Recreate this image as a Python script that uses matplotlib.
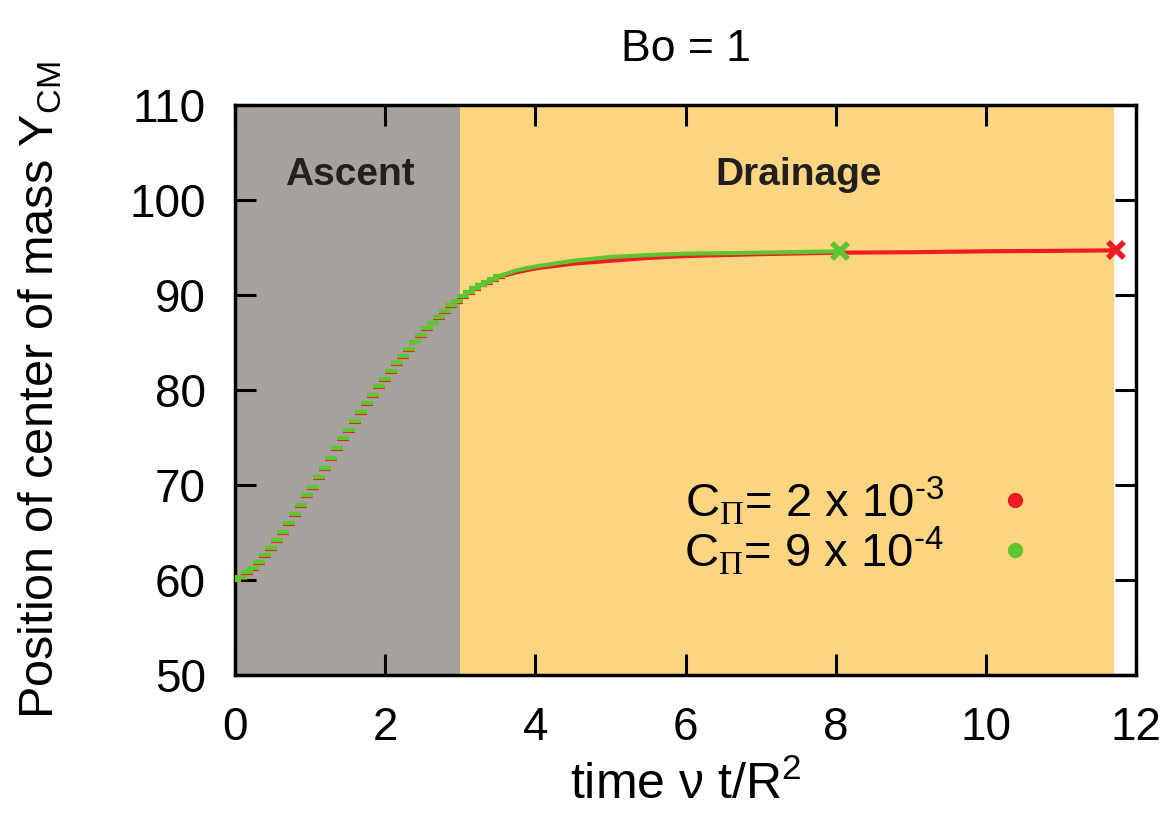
import matplotlib
matplotlib.use('Agg')
import matplotlib.pyplot as plt
from matplotlib.lines import Line2D

plt.rcParams['font.family'] = ['Liberation Sans', 'DejaVu Sans']
plt.rcParams['mathtext.fontset'] = 'custom'
plt.rcParams['mathtext.rm'] = 'Liberation Sans'
plt.rcParams['mathtext.sf'] = 'Liberation Sans'
plt.rcParams['mathtext.tt'] = 'Liberation Serif'  # serif Pi in the legend

# ascent phase samples (shared by both runs, drawn as short dashes)
t_ascent = [0.00, 0.08, 0.16, 0.24, 0.32, 0.40, 0.48, 0.56, 0.64, 0.72,
            0.80, 0.88, 0.96, 1.04, 1.12, 1.20, 1.28, 1.36, 1.44, 1.52,
            1.60, 1.68, 1.76, 1.84, 1.92, 2.00, 2.08, 2.16, 2.24, 2.32,
            2.40, 2.48, 2.56, 2.64, 2.72, 2.80, 2.88, 2.96, 3.04, 3.12,
            3.20, 3.28, 3.36, 3.44, 3.52]
y_ascent = [60.0, 60.3, 60.8, 61.3, 61.9, 62.6, 63.4, 64.2, 65.1, 66.0,
            66.9, 67.9, 68.9, 69.8, 70.8, 71.8, 72.8, 73.9, 74.9, 75.8,
            76.7, 77.7, 78.6, 79.5, 80.4, 81.2, 82.0, 82.8, 83.6, 84.3,
            85.1, 85.8, 86.5, 87.1, 87.7, 88.3, 88.9, 89.4, 89.9, 90.3,
            90.7, 91.1, 91.4, 91.7, 92.0]
y_ascent_red = [60.0, 60.2, 60.7, 61.2, 61.8, 62.5, 63.3, 64.1, 65.0, 65.9,
                66.8, 67.8, 68.8, 69.7, 70.7, 71.7, 72.7, 73.8, 74.8, 75.7,
                76.6, 77.6, 78.5, 79.4, 80.3, 81.1, 81.9, 82.7, 83.5, 84.2,
                85.0, 85.7, 86.4, 87.0, 87.6, 88.2, 88.8, 89.3, 89.8, 90.2,
                90.6, 91.0, 91.3, 91.6, 91.9]

# drainage phase
t_red = [3.52, 3.75, 4.0, 4.5, 5.0, 5.5, 6.0, 7.0, 8.0, 9.0, 10.0, 11.0, 11.73]
y_red = [91.9, 92.4, 92.8, 93.3, 93.6, 93.9, 94.1, 94.3, 94.45, 94.5, 94.6, 94.65, 94.7]
t_green = [3.52, 3.75, 4.0, 4.5, 5.0, 5.5, 6.0, 7.0, 8.06]
y_green = [92.0, 92.6, 93.0, 93.6, 94.0, 94.2, 94.35, 94.45, 94.6]

ascent_end = 3.0
drainage_end = 11.7
red = '#ED1C24'
green = '#5EC42F'

fig = plt.figure(figsize=(11.72, 8.22), dpi=100)
ax = fig.add_axes([0.2005, 0.1788, 0.769, 0.6935])

ax.axvspan(0, ascent_end, color='#A7A19E', lw=0, zorder=0)
ax.axvspan(ascent_end, drainage_end, color='#FCD581', lw=0, zorder=0)

ax.plot(t_ascent, y_ascent_red, ls='none', marker='_', ms=8.5, mew=3.0, color=red, zorder=3)
ax.plot(t_ascent, y_ascent, ls='none', marker='_', ms=8.5, mew=3.0, color=green, zorder=4)
ax.plot(t_red, y_red, color=red, lw=3, zorder=3)
ax.plot(t_green, y_green, color=green, lw=3, zorder=4)
ax.plot(t_red[-1], y_red[-1], marker='x', ms=12, mew=4, color=red, zorder=5)
ax.plot(t_green[-1], y_green[-1], marker='x', ms=12, mew=4, color=green, zorder=5)

ax.text(1.53, 102.6, 'Ascent', fontsize=28, fontweight='bold', color='#231F20',
        ha='center', va='center')
ax.text(7.5, 102.6, 'Drainage', fontsize=28, fontweight='bold', color='#231F20',
        ha='center', va='center')

handles = [Line2D([], [], ls='none', marker='o', ms=10, color=red),
           Line2D([], [], ls='none', marker='o', ms=10, color=green)]
labels = [r'C$_{\mathtt{\Pi}}$= 2 x 10$^{\text{-3}}$',
          r'C$_{\mathtt{\Pi}}$= 9 x 10$^{\text{-4}}$']
leg = ax.legend(handles, labels, loc='center right', bbox_to_anchor=(0.918, 0.262),
                markerfirst=False, frameon=False, fontsize=34, handlelength=1.0,
                handletextpad=1.0, labelspacing=-0.05, borderpad=0)

ax.set_xlim(0, 12)
ax.set_ylim(50, 110)
ax.set_xticks([0, 2, 4, 6, 8, 10, 12])
ax.set_yticks([50, 60, 70, 80, 90, 100, 110])
ax.tick_params(direction='in', length=15, width=2.2, top=True, right=True, labelsize=33)
ax.tick_params(axis='x', pad=22)
ax.tick_params(axis='y', pad=21)
for sp in ax.spines.values():
    sp.set_linewidth(2.5)

ax.set_xlabel('time ν t/R$^{2}$', fontsize=36)
ax.xaxis.set_label_coords(0.5, -0.15)
ax.set_ylabel(r'Position of center of mass Y$_{\mathrm{CM}}$', fontsize=35)
ax.yaxis.set_label_coords(-0.19, 0.5)
ax.set_title('Bo = 1', fontsize=32, pad=32)

fig.savefig('out.png', dpi=100)
